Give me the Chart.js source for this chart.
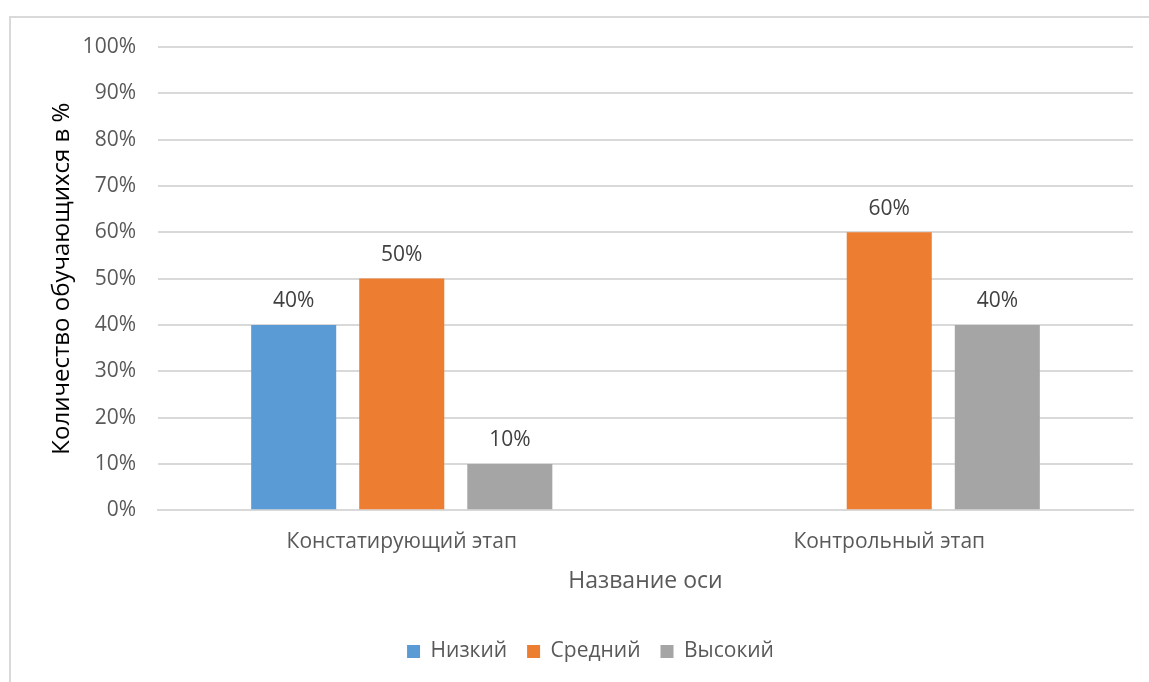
<!DOCTYPE html>
<html>
<head>
<meta charset="utf-8">
<script src="https://cdn.jsdelivr.net/npm/chart.js@4.4.0/dist/chart.umd.min.js"></script>
<style>
  html, body { margin: 0; padding: 0; background: #fff; }
  #wrap { position: relative; width: 1149px; height: 682px; overflow: hidden; }
  #frame {
    position: absolute; left: 9px; top: 16px; width: 1160px; height: 700px;
    border-top: 2px solid #d9d9d9; border-left: 2px solid #d9d9d9;
  }
  canvas { position: absolute; left: 0; top: 0; }
</style>
</head>
<body>
<div id="wrap">
  <div id="frame"></div>
  <canvas id="chart" width="1149" height="682"></canvas>
</div>
<script>
const categories = ["Констатирующий этап", "Контрольный этап"];
const seriesNames = ["Низкий", "Средний", "Высокий"];
const lowValues = [40, 0];
const midValues = [50, 60];
const highValues = [10, 40];
const colors = ["#5b9bd5", "#ed7d31", "#a5a5a5"];

const FONT = "'Open Sans', sans-serif";

// value labels above each bar, zero bars left unlabeled
const barLabels = {
  id: "barLabels",
  afterDatasetsDraw(chart) {
    const ctx = chart.ctx;
    ctx.save();
    ctx.font = "21px " + FONT;
    ctx.fillStyle = "#404040";
    ctx.textAlign = "center";
    ctx.textBaseline = "bottom";
    chart.data.datasets.forEach((ds, i) => {
      chart.getDatasetMeta(i).data.forEach((bar, j) => {
        const v = ds.data[j];
        if (!v) return;
        ctx.fillText(v + "%", bar.x, bar.y - 13);
      });
    });
    ctx.restore();
  },
};

new Chart(document.getElementById("chart"), {
  type: "bar",
  data: {
    labels: categories,
    datasets: [lowValues, midValues, highValues].map((d, i) => ({
      label: seriesNames[i],
      data: d,
      backgroundColor: colors[i],
      categoryPercentage: 0.665,
      barPercentage: 0.787,
    })),
  },
  options: {
    responsive: false,
    animation: false,
    layout: { padding: { left: 48, right: 16, top: 47, bottom: 10 } },
    plugins: {
      legend: {
        position: "bottom",
        labels: {
          color: "#595959",
          font: { family: FONT, size: 21 },
          boxWidth: 13,
          boxHeight: 13,
          padding: 20,
        },
      },
      tooltip: { enabled: false },
    },
    scales: {
      x: {
        grid: { display: false },
        border: { color: "#d9d9d9", width: 2 },
        ticks: { color: "#595959", font: { family: FONT, size: 21 }, padding: 11 },
        title: {
          display: true,
          text: "Название оси",
          color: "#595959",
          font: { family: FONT, size: 23 },
          padding: { top: 2, bottom: 26 },
        },
      },
      y: {
        min: 0,
        max: 100,
        afterFit: (scale) => { scale.width = 110; },
        ticks: {
          stepSize: 10,
          color: "#595959",
          font: { family: FONT, size: 21 },
          padding: 22,
          callback: (v) => v + "%",
        },
        grid: { color: "#d9d9d9", lineWidth: 2, drawTicks: false },
        border: { display: false },
        title: {
          display: true,
          text: "Количество обучающихся в %",
          color: "#000000",
          font: { family: FONT, size: 24 },
          padding: 0,
        },
      },
    },
  },
  plugins: [barLabels],
});
</script>
</body>
</html>
